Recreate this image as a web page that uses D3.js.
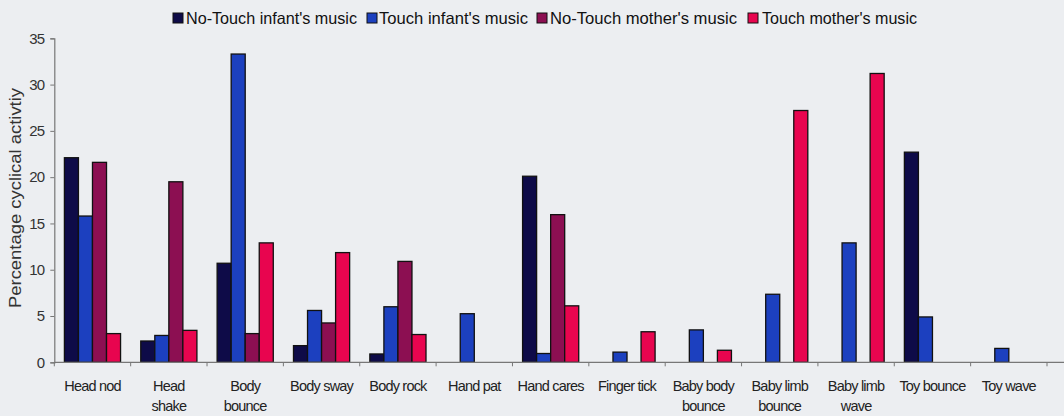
<!DOCTYPE html>
<html><head><meta charset="utf-8">
<script src="https://cdn.jsdelivr.net/npm/d3@7"></script>
<style>
html,body{margin:0;padding:0;background:#eceef1;}
svg{display:block;font-family:"Liberation Sans",Arial,sans-serif;}
</style></head>
<body>
<svg id="chart" width="1064" height="416"></svg>
<script>
const categories = [["Head nod"],["Head","shake"],["Body","bounce"],["Body sway"],["Body rock"],["Hand pat"],["Hand cares"],["Finger tick"],["Baby body","bounce"],["Baby limb","bounce"],["Baby limb","wave"],["Toy bounce"],["Toy wave"]];
const seriesNames = ["No-Touch infant's music","Touch infant's music","No-Touch mother's music","Touch mother's music"];
const noTouchInfant = [22.1,2.3,10.7,1.8,0.9,0,20.1,0,0,0,0,22.7,0];
const touchInfant   = [15.8,2.9,33.3,5.6,6.0,5.25,0.95,1.1,3.5,7.35,12.9,4.9,1.5];
const noTouchMother = [21.6,19.5,3.1,4.25,10.9,0,15.95,0,0,0,0,0,0];
const touchMother   = [3.1,3.45,12.9,11.85,3.0,0,6.1,3.3,1.3,27.2,31.2,0,0];
const yTicks = [0,5,10,15,20,25,30,35];
const colors = ["#0e0b48","#1c40bf","#8c0f52","#e8054f"];
const seriesVals = [noTouchInfant,touchInfant,noTouchMother,touchMother];

const svg = d3.select("#chart");
const x0 = 54.3, x1 = 1047, yTop = 38.3, yBot = 362.3;
const x = d3.scaleBand().domain(d3.range(categories.length)).range([x0,x1]).paddingInner(0).paddingOuter(0);
const xs = d3.scaleBand().domain(d3.range(4)).range([0,x.bandwidth()]).paddingOuter(0.72).paddingInner(0);
const y = d3.scaleLinear().domain([0,35]).range([yBot,yTop]);

// y axis
const ya = svg.append("g").attr("transform",`translate(${x0},0)`)
  .call(d3.axisLeft(y).tickValues(yTicks).tickSize(4).tickPadding(6));
ya.select(".domain").attr("stroke","#777").attr("stroke-width",1.2);
ya.selectAll(".tick line").attr("stroke","#777");
ya.selectAll("text").attr("font-size",15).attr("letter-spacing",-0.8).attr("fill","#333").style("font-family","Liberation Sans, Arial, sans-serif");

// bars
seriesVals.forEach((vals,si)=>{
  svg.append("g").selectAll("rect").data(vals).join("rect")
    .attr("x",(d,i)=>x(i)+xs(si))
    .attr("width",xs.bandwidth())
    .attr("y",d=>y(d))
    .attr("height",d=>yBot-y(d))
    .attr("fill",colors[si])
    .attr("stroke",d=>d>0?"#111":"none")
    .attr("stroke-width",1.3);
});

// x axis
const xa = svg.append("g").attr("transform",`translate(0,${yBot})`);
xa.append("line").attr("x1",x0).attr("x2",1064).attr("stroke","#777").attr("stroke-width",1.2);
xa.selectAll("line.t").data(d3.range(categories.length+1)).join("line").attr("class","t")
  .attr("x1",i=>x0+i*x.bandwidth()).attr("x2",i=>x0+i*x.bandwidth())
  .attr("y1",0).attr("y2",4).attr("stroke","#777");
const lab = xa.selectAll("text").data(categories).join("text")
  .attr("text-anchor","middle").attr("font-size",14.5).attr("fill","#222")
  .attr("letter-spacing",-0.8)
  .attr("transform",(d,i)=>`translate(${x(i)+x.bandwidth()/2},0)`);
lab.selectAll("tspan").data(d=>d).join("tspan").attr("x",0).attr("y",(d,j)=>29+j*20).text(d=>d);

// y label
svg.append("text").attr("transform","translate(21,198) rotate(-90)").attr("text-anchor","middle")
  .attr("font-size",17).attr("textLength",220).attr("lengthAdjust","spacingAndGlyphs")
  .attr("fill","#333").text("Percentage cyclical activtiy");

// legend
const legSq = [173,367,537,748];
const legTxt = [[186,171],[379,149],[550,187],[762,155]];
const lg = svg.append("g");
seriesNames.forEach((n,i)=>{
  lg.append("rect").attr("x",legSq[i]).attr("y",13).attr("width",10).attr("height",10)
    .attr("fill",colors[i]).attr("stroke","#111").attr("stroke-width",1);
  lg.append("text").attr("x",legTxt[i][0]).attr("y",24).attr("font-size",16.5)
    .attr("textLength",legTxt[i][1]).attr("lengthAdjust","spacingAndGlyphs")
    .attr("fill","#111").text(n);
});
</script>
</body></html>
